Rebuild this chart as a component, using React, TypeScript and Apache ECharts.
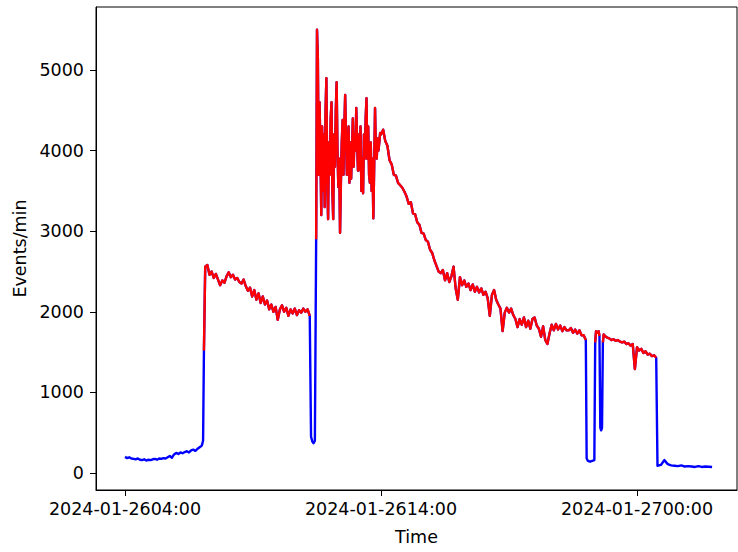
import React, { useEffect, useRef } from "react";
import * as echarts from "echarts";

// Time is measured in minutes after 2024-01-26 04:00
const START_HOUR = 4;
const RED_THRESHOLD = 1000;

const xTickHours = [4, 14, 24];
const yTickValues = [0, 1000, 2000, 3000, 4000, 5000];

// 04:00 - 07:00, every 5 min
const morningStart = 0;
const morningStep = 5;
const morningValues = [200, 185, 195, 180, 175, 170, 180, 165, 160, 170, 155, 165, 160, 170, 175, 165, 180, 175, 185, 180, 195, 210, 190, 230, 250, 235, 255, 245, 260, 270, 255, 280, 290, 275, 300, 320, 340];

const riseTimes = [183, 185];
const riseValues = [400, 1520];

// 07:08 - 11:13, every 5 min
const plateauStart = 188;
const plateauStep = 5;
const plateauValues = [2560, 2580, 2460, 2500, 2420, 2470, 2400, 2330, 2390, 2360, 2440, 2490, 2430, 2460, 2400, 2420, 2370, 2350, 2400, 2320, 2260, 2300, 2190, 2270, 2150, 2230, 2110, 2190, 2090, 2140, 2030, 2090, 2000, 2060, 1900, 2030, 2080, 2000, 2050, 1950, 2030, 1980, 2040, 1960, 2020, 1990, 2040, 2000, 2030, 1950];

const dipTimes = [436, 439, 442, 445, 448];
const dipValues = [450, 390, 370, 400, 2900];

// 11:30 - 13:58, every 2 min
const burstStart = 450;
const burstStep = 2;
const burstValues = [5500, 5150, 3700, 4600, 4000, 3200, 4300, 3500, 4200, 3300, 4500, 4900, 3600, 3150, 4100, 3700, 4400, 4600, 3500, 3150, 4200, 3800, 4500, 4850, 4000, 3550, 3900, 2980, 3600, 4100, 4380, 3700, 4300, 4690, 4200, 3700, 3850, 4300, 3600, 4100, 3650, 4000, 4400, 3800, 4200, 4000, 4530, 4100, 3750, 4200, 3760, 4300, 3500, 3900, 3470, 4200, 3900, 4400, 4650, 3900, 4300, 3700, 3600, 4100, 3500, 3900, 3160, 3800, 4530, 4000, 3900, 4150, 4000, 4100, 4220];

// 14:00 - 22:00, every 5 min
const decayStart = 600;
const decayStep = 5;
const decayValues = [4200, 4260, 4120, 4060, 3880, 3830, 3700, 3690, 3600, 3570, 3540, 3490, 3430, 3340, 3360, 3220, 3210, 3110, 3080, 2980, 2970, 2890, 2870, 2770, 2730, 2640, 2570, 2500, 2480, 2520, 2390, 2480, 2370, 2440, 2560, 2290, 2150, 2430, 2330, 2390, 2310, 2350, 2270, 2340, 2250, 2310, 2240, 2290, 2210, 2250, 2170, 1950, 2210, 2270, 2150, 2090, 2040, 1760, 1990, 2050, 1990, 2040, 1960, 1910, 1810, 1910, 1840, 1930, 1810, 1890, 1790, 1910, 1930, 1830, 1790, 1690, 1820, 1650, 1600, 1730, 1840, 1770, 1850, 1780, 1830, 1760, 1810, 1770, 1770, 1800, 1740, 1780, 1730, 1770, 1710, 1710, 1650];

const dropoutTimes = [1082, 1085, 1090, 1095, 1100, 1102, 1104, 1107, 1110, 1112, 1114, 1116, 1118, 1120, 1122];
const dropoutValues = [180, 150, 140, 150, 160, 1620, 1760, 1740, 1760, 1700, 560, 530, 560, 1620, 1720];

// 22:45 - 00:45, every 5 min
const tailStart = 1125;
const tailStep = 5;
const tailValues = [1700, 1680, 1670, 1650, 1660, 1640, 1650, 1630, 1620, 1630, 1600, 1610, 1580, 1600, 1290, 1560, 1520, 1540, 1490, 1510, 1470, 1480, 1450, 1460, 1430];

// 00:48 - 02:56, every 8 min
const nightStart = 1248;
const nightStep = 8;
const nightValues = [90, 100, 160, 110, 95, 90, 85, 95, 80, 85, 80, 75, 85, 75, 80, 78, 75];

function buildData(): [number, number][] {
  const pts: [number, number][] = [];
  const seg = (start: number, step: number, vals: number[]) => {
    vals.forEach((v, i) => pts.push([START_HOUR + (start + i * step) / 60, v]));
  };
  const pairs = (ts: number[], vals: number[]) => {
    ts.forEach((t, i) => pts.push([START_HOUR + t / 60, vals[i]]));
  };
  seg(morningStart, morningStep, morningValues);
  pairs(riseTimes, riseValues);
  seg(plateauStart, plateauStep, plateauValues);
  pairs(dipTimes, dipValues);
  seg(burstStart, burstStep, burstValues);
  seg(decayStart, decayStep, decayValues);
  pairs(dropoutTimes, dropoutValues);
  seg(tailStart, tailStep, tailValues);
  seg(nightStart, nightStep, nightValues);
  pts.sort((a, b) => a[0] - b[0]);
  return pts;
}

function fmtHour(h: number): string {
  const day = 26 + Math.floor(h / 24);
  const hh = Math.round(h % 24);
  return `2024-01-${day}${String(hh).padStart(2, "0")}:00`;
}

const FONT = "DejaVu Sans";
const FS = 17.5;

export default function App() {
  const ref = useRef<HTMLDivElement>(null);
  useEffect(() => {
    if (!ref.current) return;
    const chart = echarts.init(ref.current, null, { renderer: "svg" });
    const all = buildData();
    const red = all.map(([x, y]) => [x, y > RED_THRESHOLD ? y : "-"]);
    chart.setOption({
      animation: false,
      backgroundColor: "#fff",
      grid: {
        left: 96,
        right: 1,
        top: 7,
        bottom: 62,
        show: true,
        borderColor: "#000",
        borderWidth: 1,
        backgroundColor: "transparent",
      },
      xAxis: {
        type: "value",
        min: 2.867,
        max: 27.906,
        name: "Time",
        nameLocation: "middle",
        nameGap: 38,
        nameTextStyle: { color: "#000", fontFamily: FONT, fontSize: FS },
        axisLine: { show: true, onZero: false, lineStyle: { color: "#000", width: 1 } },
        axisTick: { show: true, customValues: xTickHours, length: 6, lineStyle: { color: "#000" } },
        axisLabel: {
          customValues: xTickHours,
          formatter: (v: number) => fmtHour(v),
          color: "#000",
          fontFamily: FONT,
          fontSize: FS,
          margin: 10,
        },
        splitLine: { show: false },
      },
      yAxis: {
        type: "value",
        min: -211,
        max: 5782,
        name: "Events/min",
        nameLocation: "middle",
        nameGap: 67,
        nameTextStyle: { color: "#000", fontFamily: FONT, fontSize: FS },
        axisLine: { show: true, onZero: false, lineStyle: { color: "#000", width: 1 } },
        axisTick: { show: true, customValues: yTickValues, length: 6, lineStyle: { color: "#000" } },
        axisLabel: {
          customValues: yTickValues,
          formatter: (v: number) => String(v),
          color: "#000",
          fontFamily: FONT,
          fontSize: FS,
          margin: 12,
        },
        splitLine: { show: false },
      },
      series: [
        {
          type: "line",
          data: all,
          showSymbol: false,
          lineStyle: { color: "#0000ff", width: 2.4, join: "round" },
          itemStyle: { color: "#0000ff" },
          z: 2,
        },
        {
          type: "line",
          data: red,
          showSymbol: false,
          connectNulls: false,
          lineStyle: { color: "#ff0000", width: 2.4, join: "round" },
          itemStyle: { color: "#ff0000" },
          z: 3,
        },
      ],
    });
    return () => chart.dispose();
  }, []);
  return <div ref={ref} style={{ position: "fixed", left: 0, top: 0, width: 738, height: 552 }} />;
}
